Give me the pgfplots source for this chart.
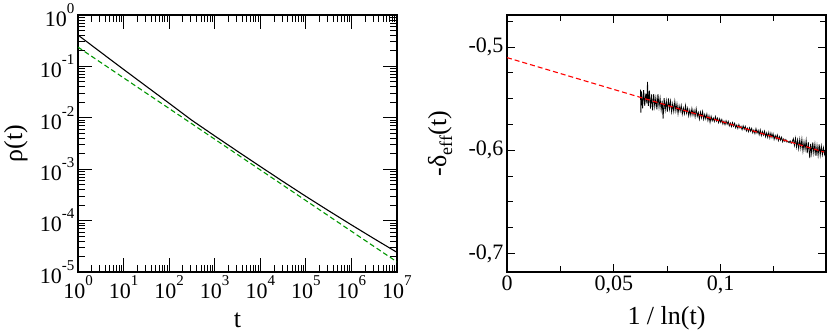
\documentclass[border=0pt]{standalone}
\usepackage{fontspec}
\setmainfont{Liberation Serif}
\newfontfamily\tnr{Liberation Serif}
\usepackage{pgfplots}
\usepackage{pgfplotstable}
\pgfplotsset{compat=1.18}
\newcommand{\tp}[1]{10\raisebox{13pt}{\tnr\fontsize{15}{15}\selectfont #1}}
\definecolor{mygreen}{RGB}{0,150,0}
\pgfplotstableread{
x y
1 0.4074
3.1623 0.1884
10 0.08750
31.623 0.04093
100 0.01919
316.23 0.008933
1000 0.004446
3162.3 0.002234
10000 0.001130
31623 0.0005754
100000 0.0002965
316230 0.0001556
1000000 0.00008260
3162300 0.00004436
10000000 0.00002410
}\rhoblack
\pgfplotstableread{
x y
0.0625 -0.5412
0.0627 -0.5635
0.0630 -0.5431
0.0635 -0.5594
0.0640 -0.5417
0.0645 -0.5570
0.0650 -0.5453
0.0655 -0.5546
0.0658 -0.5338
0.0662 -0.5571
0.0667 -0.5424
0.0672 -0.5597
0.0677 -0.5460
0.0682 -0.5613
0.0687 -0.5456
0.0692 -0.5579
0.0697 -0.5492
0.0702 -0.5605
0.0707 -0.5458
0.0712 -0.5581
0.0717 -0.5495
0.0722 -0.5608
0.0727 -0.5521
0.0731 -0.5693
0.0736 -0.5496
0.0741 -0.5609
0.0746 -0.5522
0.0751 -0.5626
0.0756 -0.5499
0.0761 -0.5602
0.0766 -0.5525
0.0771 -0.5628
0.0776 -0.5551
0.0781 -0.5624
0.0786 -0.5527
0.0791 -0.5620
0.0796 -0.5553
0.0801 -0.5646
0.0806 -0.5570
0.0811 -0.5623
0.0816 -0.5566
0.0821 -0.5649
0.0826 -0.5592
0.0831 -0.5645
0.0836 -0.5568
0.0841 -0.5641
0.0846 -0.5594
0.0851 -0.5667
0.0856 -0.5610
0.0861 -0.5663
0.0866 -0.5596
0.0871 -0.5660
0.0876 -0.5613
0.0881 -0.5676
0.0886 -0.5599
0.0891 -0.5672
0.0896 -0.5635
0.0901 -0.5698
0.0906 -0.5631
0.0911 -0.5684
0.0916 -0.5627
0.0921 -0.5700
0.0926 -0.5653
0.0931 -0.5696
0.0936 -0.5650
0.0941 -0.5713
0.0946 -0.5666
0.0951 -0.5729
0.0956 -0.5672
0.0961 -0.5715
0.0966 -0.5688
0.0971 -0.5721
0.0976 -0.5674
0.0981 -0.5717
0.0986 -0.5690
0.0991 -0.5733
0.0996 -0.5696
0.1001 -0.5730
0.1006 -0.5703
0.1011 -0.5746
0.1016 -0.5719
0.1021 -0.5752
0.1026 -0.5715
0.1031 -0.5748
0.1036 -0.5721
0.1041 -0.5764
0.1046 -0.5737
0.1051 -0.5770
0.1056 -0.5733
0.1061 -0.5767
0.1066 -0.5740
0.1071 -0.5783
0.1076 -0.5756
0.1081 -0.5789
0.1086 -0.5752
0.1091 -0.5785
0.1096 -0.5768
0.1101 -0.5801
0.1106 -0.5764
0.1111 -0.5797
0.1116 -0.5770
0.1121 -0.5813
0.1126 -0.5787
0.1131 -0.5820
0.1136 -0.5783
0.1141 -0.5816
0.1146 -0.5789
0.1151 -0.5832
0.1156 -0.5805
0.1161 -0.5838
0.1166 -0.5791
0.1171 -0.5834
0.1176 -0.5807
0.1181 -0.5850
0.1186 -0.5804
0.1191 -0.5857
0.1196 -0.5820
0.1201 -0.5853
0.1206 -0.5816
0.1211 -0.5869
0.1216 -0.5832
0.1221 -0.5875
0.1226 -0.5828
0.1231 -0.5881
0.1236 -0.5834
0.1241 -0.5877
0.1246 -0.5840
0.1251 -0.5894
0.1256 -0.5857
0.1261 -0.5890
0.1266 -0.5853
0.1271 -0.5906
0.1276 -0.5869
0.1281 -0.5902
0.1286 -0.5875
0.1291 -0.5918
0.1296 -0.5891
0.1301 -0.5914
0.1306 -0.5897
0.1311 -0.5921
0.1316 -0.5914
0.1321 -0.5927
0.1326 -0.5910
0.1331 -0.5933
0.1336 -0.5916
0.1341 -0.5889
0.1346 -0.5952
0.1351 -0.5885
0.1356 -0.5968
0.1361 -0.5901
0.1366 -0.5984
0.1371 -0.5897
0.1376 -0.5981
0.1381 -0.5894
0.1386 -0.6007
0.1391 -0.5920
0.1396 -0.5993
0.1401 -0.5906
0.1406 -0.6029
0.1411 -0.5922
0.1418 -0.6076
0.1422 -0.5939
0.1427 -0.6032
0.1432 -0.5925
0.1437 -0.6028
0.1442 -0.5941
0.1447 -0.6054
0.1452 -0.5957
0.1457 -0.6050
0.1462 -0.5944
0.1467 -0.6047
0.1472 -0.5960
0.1477 -0.6043
0.1482 -0.5976
0.1487 -0.6039
0.1492 -0.5992
}\noisy
\begin{document}
\begin{tikzpicture}
\path[use as bounding box] (0,0) rectangle (830pt,333pt);
\begin{axis}[
  at={(78pt,61pt)}, anchor=south west,
  scale only axis, width=319pt, height=257pt,
  xmode=log, ymode=log, log basis x=10, log basis y=10,
  xmin=1, xmax=1e7, ymin=1e-5, ymax=1,
  axis line style={line width=1.1pt},
  tick style={line width=0.9pt, black},
  major tick length=14pt, minor tick length=7pt,
  tick align=inside,
  xticklabel={\pgfmathtruncatemacro{\myexp}{round(\tick)}\tp{\myexp}},
  yticklabel={\pgfmathtruncatemacro{\myexp}{round(\tick)}\tp{\myexp}},
  ticklabel style={font=\tnr\fontsize{22}{24}\selectfont},
  xlabel={t}, ylabel={ρ(t)},
  label style={font=\tnr\fontsize{26}{28}\selectfont},
  xlabel style={at={(axis description cs:0.5,-0.187)}, anchor=center},
  ylabel style={at={(axis description cs:-0.195,0.5)}, anchor=center},
]
\addplot[black, line width=1.1pt] table[x=x,y=y] {\rhoblack};
\addplot[mygreen, line width=1.1pt, dash pattern=on 5pt off 3pt] coordinates {(1,0.2371) (10000000,0.00001570)};
\end{axis}
\begin{axis}[
  at={(507pt,61pt)}, anchor=south west,
  scale only axis, width=319pt, height=257pt,
  xmin=0, xmax=0.1494, ymin=-0.718, ymax=-0.469,
  axis line style={line width=1.1pt},
  tick style={line width=0.9pt, black},
  major tick length=8pt, minor tick length=6pt,
  tick align=inside,
  xtick={0,0.05,0.1}, xticklabels={0,{0,05},{0,1}},
  minor xtick={0.025,0.075,0.125},
  ytick={-0.7,-0.6,-0.5}, yticklabels={{-0,7},{-0,6},{-0,5}},
  minor ytick={-0.675,-0.65,-0.625,-0.575,-0.55,-0.525,-0.475},
  ticklabel style={font=\tnr\fontsize{22}{24}\selectfont},
  xlabel={1 / ln(t)},
  ylabel={-δ\raisebox{-6pt}{\tnr\fontsize{18}{18}\selectfont eff}(t)},
  label style={font=\tnr\fontsize{26}{28}\selectfont},
  xlabel style={at={(axis description cs:0.5,-0.180)}, anchor=center},
  ylabel style={at={(axis description cs:-0.21,0.5)}, anchor=center},
]
\addplot[black, line width=0.8pt] table[x=x,y=y] {\noisy};
\addplot[red, line width=1.1pt, dash pattern=on 5pt off 3pt] coordinates {(0,-0.5103) (0.1485,-0.6018)};
\end{axis}
\end{tikzpicture}
\end{document}
